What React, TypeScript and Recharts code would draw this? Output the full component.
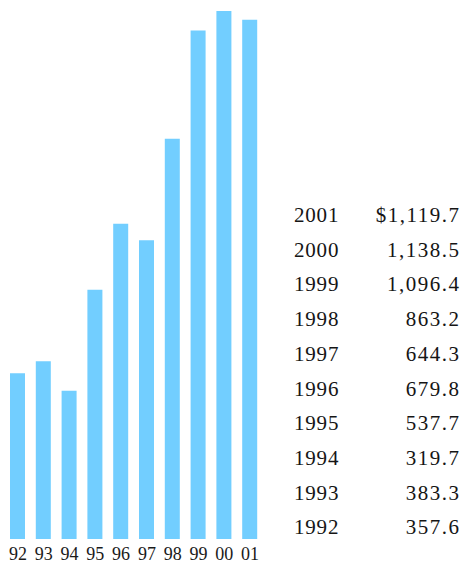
import { BarChart, Bar, XAxis, YAxis } from 'recharts'

const years = [1992, 1993, 1994, 1995, 1996, 1997, 1998, 1999, 2000, 2001]
const tickLabels = ['92', '93', '94', '95', '96', '97', '98', '99', '00', '01']
const values = [357.6, 383.3, 319.7, 537.7, 679.8, 644.3, 863.2, 1096.4, 1138.5, 1119.7]

const data = years.map((y, i) => ({ year: tickLabels[i], value: values[i] }))

const fmt = (v: number) =>
  v.toLocaleString('en-US', { minimumFractionDigits: 1, maximumFractionDigits: 1 })

const serif = '"Liberation Serif", "DejaVu Serif", serif'

export default function App() {
  const rows = years.map((y, i) => ({ y, v: values[i] })).reverse()
  return (
    <div style={{ position: 'absolute', left: 0, top: 0, width: 462, height: 567, background: '#fff' }}>
      <BarChart width={270} height={567} data={data} barSize={15}
        margin={{ top: 11, right: 7, left: 5, bottom: 0 }}>
        <XAxis dataKey="year" axisLine={false} tickLine={false} height={28} interval={0}
          tickMargin={2}
          tick={{ fontSize: 18, fill: '#1a1a1a', fontFamily: serif, letterSpacing: 0 }}/>
        <YAxis hide domain={[0, 1138.5]}/>
        <Bar dataKey="value" fill="#72CEFF" isAnimationActive={false}/>
      </BarChart>
      <div style={{ position: 'absolute', left: 294, top: 198, width: 165,
        fontFamily: serif, fontSize: 21, lineHeight: '34.7px', color: '#151515' }}>
        {rows.map((r, i) => (
          <div key={r.y} style={{ display: 'flex', justifyContent: 'space-between' }}>
            <span style={{ letterSpacing: 0.8 }}>{r.y}</span>
            <span style={{ letterSpacing: 1.5, marginRight: -1.5 }}>{i === 0 ? '$' : ''}{fmt(r.v)}</span>
          </div>
        ))}
      </div>
    </div>
  )
}
